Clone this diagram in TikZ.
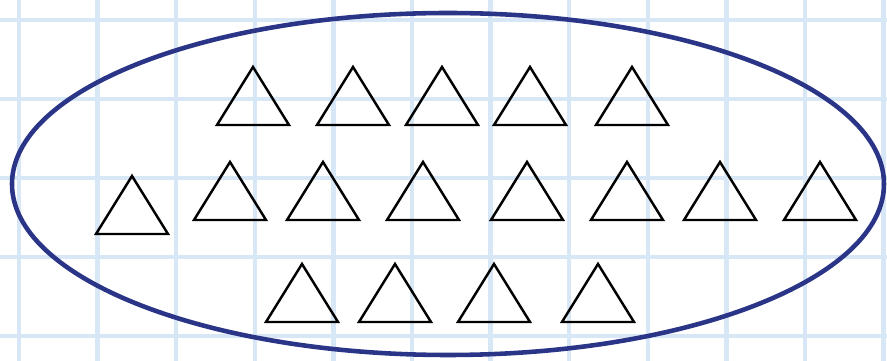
\documentclass[tikz,border=0pt]{standalone}
\usepackage{tikz}
\definecolor{gridblue}{HTML}{D8E7F6}
\definecolor{ringnavy}{HTML}{2B3588}

\begin{document}
\begin{tikzpicture}[
  x=0.02cm,y=-0.02cm,
  gridline/.style={draw=gridblue,line width=2.4pt},
  ring/.style={draw=ringnavy,line width=2.6pt},
  tri/.style={draw=black,line width=1.4pt,line join=miter}
]
\useasboundingbox (0,0) rectangle (887,361);
% squared paper
\foreach \gx in {0,...,11}
  \draw[gridline] ({19+78.6*\gx},0) -- ({19+78.6*\gx},361);
\foreach \gy in {0,...,4}
  \draw[gridline] (0,{20+79*\gy}) -- (887,{20+79*\gy});
% the set
\draw[ring] (448,184) ellipse [x radius=436,y radius=171];
% triangles: apex x, base y
\foreach \tx/\ty in {253/125,353/125,442/125,530/125,632/125,
                     132/234,230/220,323/220,423/220,527/220,627/220,720/220,820/220,
                     302/322,395/322,494/322,598/322}
  \draw[tri] (\tx-36,\ty) -- (\tx,\ty-58) -- (\tx+36,\ty) -- cycle;
\end{tikzpicture}
\end{document}
